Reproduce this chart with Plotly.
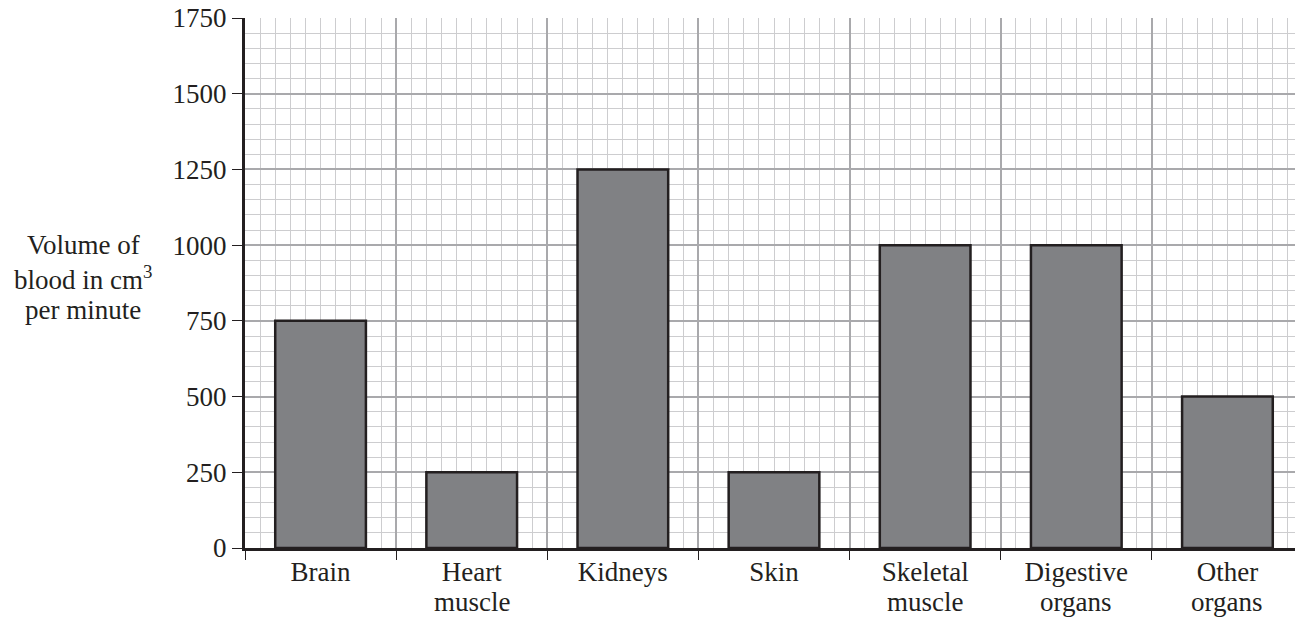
import plotly.graph_objects as go

categories = ["Brain", "Heart muscle", "Kidneys", "Skin", "Skeletal muscle", "Digestive organs", "Other organs"]
label_line1 = ["Brain", "Heart", "Kidneys", "Skin", "Skeletal", "Digestive", "Other"]
label_line2 = ["", "muscle", "", "", "muscle", "organs", "organs"]
values = [750, 250, 1250, 250, 1000, 1000, 500]
y_ticks = [0, 250, 500, 750, 1000, 1250, 1500, 1750]
y_title_lines = ["Volume of", "blood in cm<sup>3</sup>", "per minute"]

FONT = "Liberation Serif"
INK = "#231f20"
MAJOR = "#a9a9ac"
MINOR = "#cdcdcf"
FS = 27

fig = go.Figure()
# helper trace so the numeric grid axis (x) is drawn
fig.add_trace(go.Scatter(
    x=[0, len(categories)], y=[0, 0], xaxis="x", yaxis="y",
    mode="markers", marker=dict(opacity=0, size=1),
    showlegend=False, hoverinfo="skip",
))
fig.add_trace(go.Bar(
    x=categories, y=values, xaxis="x2", yaxis="y",
    width=0.6,
    marker=dict(color="#808184", line=dict(color=INK, width=2.5)),
    showlegend=False, hoverinfo="x+y",
))

# page is offset by 8px body margin; margins compensate
L, R, T, B = 237, 8, 10, 78
W, H = 1303, 618
plot_h = H - T - B

annotations = []
y_centers_page = [245, 278, 310]
for txt, yc in zip(y_title_lines, y_centers_page):
    yf = yc - 8
    annotations.append(dict(
        text=txt, xref="paper", yref="paper",
        x=(75 - L) / (W - L - R), y=(H - B - yf) / plot_h,
        xanchor="center", yanchor="middle", showarrow=False,
        font=dict(family=FONT, size=FS, color=INK),
    ))

# second line of category labels (tighter leading than <br> allows)
line2_center_fig = 602 - 8
for cat, txt in zip(categories, label_line2):
    if txt:
        annotations.append(dict(
            text=txt, xref="x2", yref="paper",
            x=cat, y=(H - B - line2_center_fig) / plot_h,
            xanchor="center", yanchor="middle", showarrow=False,
            font=dict(family=FONT, size=FS, color=INK),
        ))

fig.update_layout(
    width=W, height=H,
    margin=dict(l=L, r=R, t=T, b=B, autoexpand=False),
    paper_bgcolor="white", plot_bgcolor="white",
    font=dict(family=FONT, size=FS, color=INK),
    xaxis=dict(
        type="linear", range=[0, len(categories)], tick0=0, dtick=1,
        showgrid=True, gridcolor=MAJOR, gridwidth=2,
        minor=dict(dtick=0.1, showgrid=True, gridcolor=MINOR, gridwidth=1.2),
        ticks="outside", ticklen=9, tickwidth=1.2, tickcolor=INK,
        showticklabels=False, zeroline=False,
        showline=True, linecolor=INK, linewidth=3,
        automargin=False, fixedrange=True,
    ),
    xaxis2=dict(
        type="category", overlaying="x", side="bottom", anchor="y",
        range=[-0.5, len(categories) - 0.5],
        tickvals=categories, ticktext=label_line1,
        showgrid=False, ticks="", showline=False, zeroline=False,
        tickfont=dict(family=FONT, size=FS, color=INK),
        ticklabelstandoff=5,
        automargin=False, fixedrange=True,
    ),
    yaxis=dict(
        range=[0, 1750], tickvals=y_ticks,
        showgrid=True, gridcolor=MAJOR, gridwidth=2,
        minor=dict(dtick=50, showgrid=True, gridcolor=MINOR, gridwidth=1.2),
        ticks="outside", ticklen=10, tickwidth=1.2, tickcolor=INK,
        tickfont=dict(family=FONT, size=FS, color=INK),
        ticklabeloverflow="allow",
        zeroline=False, showline=True, linecolor=INK, linewidth=3,
        automargin=False, fixedrange=True,
    ),
    annotations=annotations,
)

fig.write_html("out.html")
